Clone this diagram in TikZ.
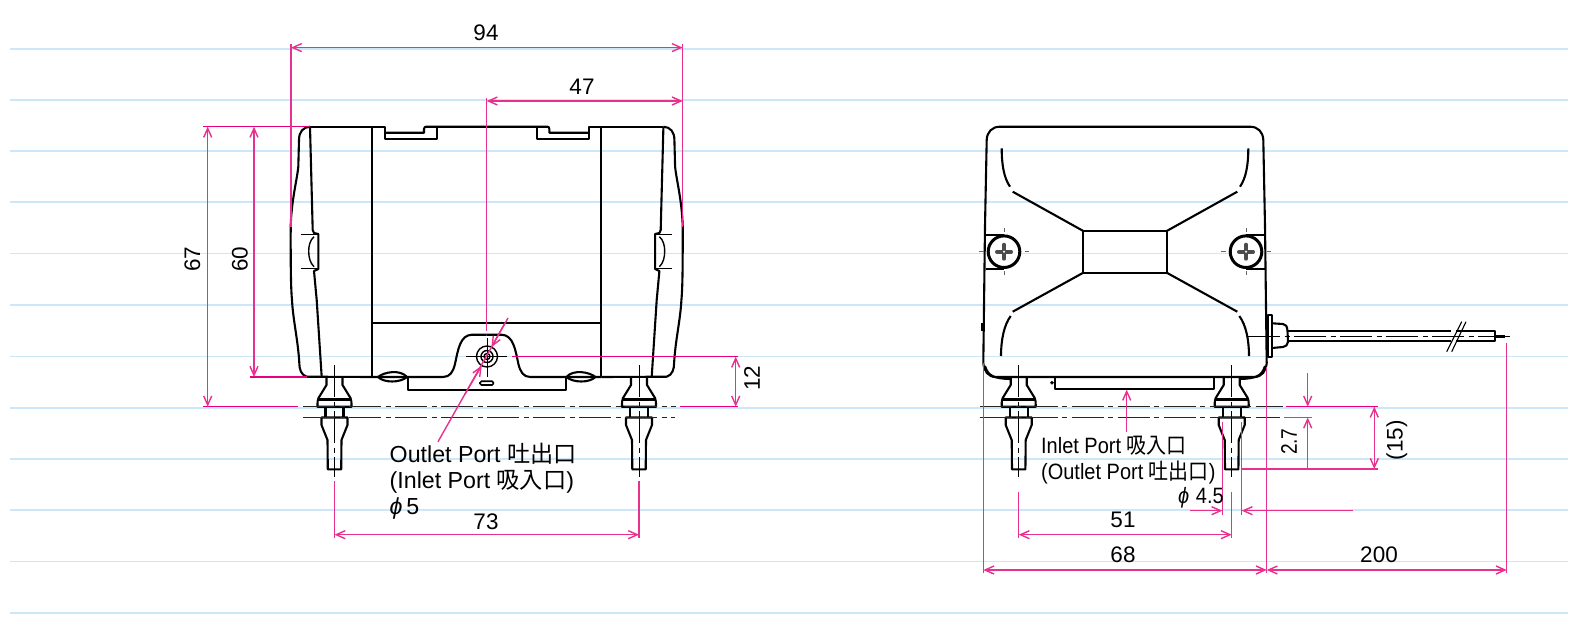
\documentclass[tikz,border=0pt]{standalone}
\usepackage{fontspec}
\setmainfont{Liberation Sans}
\newfontfamily\cjkfont{Noto Sans CJK JP}
\usetikzlibrary{arrows.meta}
\definecolor{dimpink}{HTML}{E8308F}
\definecolor{extpink}{HTML}{E6007E}
\definecolor{ruleblue}{HTML}{CCE7F8}
\newcommand{\cj}[1]{{\cjkfont #1}}
\newcommand{\phisym}{{\itshape ϕ}}
\tikzset{
  ruleline/.style={ruleblue,line width=1.2pt},
  outline/.style={black,line width=2.1pt,line join=round},
  thinout/.style={black,line width=1.4pt},
  centreline/.style={black!85,line width=1.1pt,dash pattern=on 32pt off 4.5pt on 5pt off 4.5pt},
  extline/.style={extpink,line width=1.3pt},
  dimline/.style={dimpink,line width=1.4pt,>={Straight Barb[length=9pt,width=8pt]}},
  dimtext/.style={font=\fontsize{22.5}{25}\selectfont,inner sep=0pt,text=black},
  porttext/.style={font=\fontsize{23.2}{26}\selectfont,inner sep=0pt,text=black,anchor=base west},
  portnarrow/.style={font=\fontsize{22.2}{25}\selectfont,inner sep=0pt,text=black,anchor=base west,xscale=.9},
}
% half of the front view, drawn on the left and mirrored
\newcommand{\halfbody}{%
  \draw[outline] (372,377) -- (306.7,376.7) .. controls (301,375) and (299.3,369) .. (299.3,363)
    .. controls (298,340) and (293,320) .. (292,300) .. controls (290.5,285) and (290.7,250) .. (290.7,226)
    .. controls (291.5,200) and (297,180) .. (298.3,166.7) -- (299,140) .. controls (299,132) and (303,127) .. (310,126.7);
  \draw[outline] (310,126.7) -- (312.7,230) -- (314,233) -- (318.3,234) -- (318.3,269) -- (314,271) -- (316.7,300) -- (321.7,377);
  \draw[thinout] (301,234.7) -- (318,234.7) (301,268.3) -- (318,268.3);
  \draw[thinout] (314,236.7) .. controls (310,240) and (308.7,246) .. (308.7,251) .. controls (308.7,257) and (310,263) .. (314,266.7);
  \draw[outline] (372,126.7) -- (372,377);
  \draw[outline] (372,126.7) -- (384.7,126.7) -- (384.7,139) -- (436.7,139) -- (436.7,127);
  \draw[outline] (384.7,132.7) -- (424,132.7) -- (424,129) .. controls (424,127.5) and (425,126.7) .. (426,126.7) -- (486.7,126.7);
  \draw[outline] (310,126.7) -- (372,126.7);
  \draw[outline] (378,377) .. controls (384,372) and (400,369) .. (407,377) .. controls (400,383) and (384,383) .. (378,377);
  \draw[thinout] (381,377) -- (404,377);
  \draw[outline] (372,377) -- (443,377) .. controls (450,377) and (453,372) .. (455,364)
    .. controls (458,350) and (460,335) .. (472,334.7) -- (486.7,334.7);
  \draw[outline] (407.7,377) -- (407.7,389.7) -- (486.7,389.7);
}
\newcommand{\pumpfoot}[1]{%
  \begin{scope}[shift={(#1,0)}]
    \draw[outline] (-8,377) -- (-8,385) -- (-16,398) .. controls (-17,400) and (-17,402) .. (-17,406.7) -- (17,406.7)
       .. controls (17,402) and (17,400) .. (16,398) -- (8,385) -- (8,377);
    \draw[outline] (-16,399.5) -- (16,399.5);
    \draw[outline] (-9,406.7) -- (-9,417.5) (9,406.7) -- (9,417.5);
    \draw[outline] (-13,417.5) -- (13,417.5) -- (13,425) -- (7,440) -- (6.7,469.3) -- (-6.7,469.3) -- (-7,440) -- (-13,425) -- cycle;
    \draw[black,line width=1pt,dash pattern=on 32pt off 4.5pt on 5pt off 4.5pt] (0,365) -- (0,477);
  \end{scope}%
}
\newcommand{\screwhead}[1]{%
  \begin{scope}[shift={(#1,251.7)}]
    \draw[black,line width=3pt,fill=white] (0,0) circle (15.8);
    \draw[black!70,line width=4pt,line cap=round] (-7,0) -- (7,0) (0,-7) -- (0,7);
    \fill[white] (0,0) circle (1.2);
    \draw[black!60,line width=1pt] (-25,0) -- (-20.5,0) (20.5,0) -- (25,0) (0,-23.5) -- (0,-19.5) (0,19.5) -- (0,23.5);
  \end{scope}%
}
\begin{document}
\begin{tikzpicture}[x=1pt,y=-1pt]
\useasboundingbox (0,0) rectangle (1588,634);
\fill[white] (0,0) rectangle (1588,634);
% ruled background
\foreach \yy in {49,100,151,202,253.7,305,356.5,408,459,510,561.5,613}
  \draw[ruleline] (10,\yy) -- (1568,\yy);

% ---- front view
\halfbody
\begin{scope}[shift={(973.4,0)},xscale=-1]\halfbody\end{scope}
\draw[outline] (372,322.7) -- (601.4,322.7);
\pumpfoot{334.5}
\pumpfoot{639}
\draw[black,line width=1.6pt,rounded corners=1.5pt] (480,381.2) rectangle (493.4,385);
\draw[thinout] (487,356.5) circle (10.5);
\draw[thinout] (487,356.5) circle (6);
\draw[thinout] (487,356.5) circle (3);
\draw[black,line width=1pt] (466,356.5) -- (507,356.5) (487,338) -- (487,377);
\draw[centreline] (303,406.7) -- (676,406.7);
\draw[centreline] (303,417.5) -- (675,417.5);

% front view dimensions
\draw[extline] (203,126.7) -- (310,126.7);
\draw[extline] (250,377) -- (307,377);
\draw[extline] (203,406.7) -- (298,406.7);
\draw[extline] (512,356.7) -- (738,356.7);
\draw[extline] (680,406.7) -- (738,406.7);
\draw[dimline] (291,44) -- (291,226.7);
\draw[dimline] (682.7,44) -- (682.7,226.7);
\draw[dimline] (486.7,98) -- (486.7,331);
\draw[dimline,<->] (291,47.6) -- (682.7,47.6);
\draw[dimline,<->] (486.7,101) -- (682.7,101);
\draw[dimline,<->] (207.7,126.7) -- (207.7,406.7);
\draw[dimline,<->] (254,126.7) -- (254,377);
\draw[dimline,<->] (735.7,356.7) -- (735.7,406.7);
\draw[dimline] (438,441.7) -- (508,318);
\draw[dimline,->] (465,394) -- (481.7,365.7);
\draw[dimline,->] (505,323) -- (491.5,347);
\draw[dimline] (334.5,481) -- (334.5,538);
\draw[dimline] (639,481) -- (639,538);
\draw[dimline,<->] (334.5,534.7) -- (639,534.7);
\node[dimtext] (d94) at (486,32.5) {94};
\node[dimtext] (d47) at (582,86.5) {47};
\node[dimtext,rotate=90] (d67) at (192.4,259) {67};
\node[dimtext,rotate=90] (d60) at (240,259) {60};
\node[dimtext,rotate=90] (d12) at (752,378) {12};
\node[dimtext] (d73) at (486,521.5) {73};
\node[porttext] (outA) at (389.5,462.7) {Outlet Port \cj{吐出口}};
\node[porttext] (inA) at (389.5,488.5) {(Inlet Port \cj{吸入口})};
\node[porttext] (phiA) at (389.5,514) {\phisym\,5};

% ---- side view
\draw[outline] (983.3,363) -- (985,226) -- (986.7,140) .. controls (987,132) and (992,126.7) .. (1000,126.7)
  -- (1250,126.7) .. controls (1258,126.7) and (1263,132) .. (1263.3,140) -- (1265,226) -- (1266.7,363)
  .. controls (1266,371) and (1262,377) .. (1254,377) -- (996,377) .. controls (988,377) and (984,371) .. (983.3,363);
\draw[outline] (985,366) .. controls (988,376) and (994,378.5) .. (1010,379);
\draw[outline] (1265,366) .. controls (1262,376) and (1256,378.5) .. (1240,379);
\draw[outline] (982.5,323) -- (982.5,331);
\draw[outline] (1083.3,231) rectangle (1166.7,272.7);
\draw[outline] (1083.3,231) -- (1012.7,191.7) (1166.7,231) -- (1237.3,191.7)
  (1083.3,272.7) -- (1012.7,311.7) (1166.7,272.7) -- (1237.3,311.7);
\draw[outline] (1010,186.7) .. controls (1004,178) and (1001.7,165) .. (1001.7,148.3);
\draw[outline] (1240,186.7) .. controls (1246,178) and (1248.3,165) .. (1248.3,148.3);
\draw[outline] (1010.7,316) .. controls (1004,325) and (1001,340) .. (1001,356);
\draw[outline] (1239.3,316) .. controls (1246,325) and (1249,340) .. (1249,356);
\draw[outline] (986,235) -- (1004,235) (986,269) -- (1004,269) (1246,235) -- (1264.5,235) (1246,269) -- (1265,269);
\screwhead{1004}
\screwhead{1246}
\pumpfoot{1018.7}
\pumpfoot{1231.7}
\draw[outline] (1055,377) -- (1055,389.3) -- (1214,389.3) -- (1214,377);
\draw[black,fill=black] (1052,382.7) circle (1.6);
% cord
\draw[outline] (1268,315) rectangle (1271.7,357);
\draw[outline] (1272,323.3) -- (1283,324) .. controls (1286,324.5) and (1287,326) .. (1287.5,331) -- (1288,342)
   .. controls (1287.5,345) and (1286,346.5) .. (1283,347) -- (1272,348);
\draw[outline] (1288,330.7) -- (1495,330.7) -- (1495,341.3) -- (1288,341.3);
\fill[white] (1451,328) -- (1456,328) -- (1456,344) -- (1451,344) -- cycle;
\draw[black,line width=3pt] (1495,336) -- (1505,336);
\draw[black,line width=1.1pt] (1446.7,351.7) -- (1461.7,321.7) (1451.7,351.7) -- (1466,321.7);
\draw[black,line width=1pt,dash pattern=on 32pt off 4.5pt on 5pt off 4.5pt] (1248,336) -- (1512,336);
\draw[centreline] (979.7,406.7) -- (1283,406.7);
\draw[centreline] (979.7,417.5) -- (1280,417.5);

% side view dimensions
\draw[extline] (1285.7,406.7) -- (1378,406.7);
\draw[dimline] (1284,417.5) -- (1311.7,417.5);
\draw[dimline] (1241.7,469) -- (1378,469);
\draw[dimline,->] (1126.7,431.7) -- (1126.7,389.7);
\draw[dimline] (1222.3,421.7) -- (1222.3,515);
\draw[dimline] (1241.7,421.7) -- (1241.7,515);
\draw[dimline,->] (1190,510.7) -- (1222.3,510.7);
\draw[dimline,->] (1353,510.7) -- (1241.7,510.7);
\draw[dimline,->] (1307.7,373) -- (1307.7,406.7);
\draw[dimline,->] (1307.7,470) -- (1307.7,417.5);
\draw[dimline,<->] (1374.3,406.7) -- (1374.3,469);
\draw[dimline] (1018.7,491.7) -- (1018.7,538);
\draw[dimline] (1231.7,491.7) -- (1231.7,538);
\draw[dimline,<->] (1018.7,534.7) -- (1231.7,534.7);
\draw[dimline] (983.3,363) -- (983.3,573);
\draw[dimline] (1266.7,367) -- (1266.7,573);
\draw[dimline] (1506.7,342.7) -- (1506.7,573);
\draw[dimline,<->] (983.3,570) -- (1266.7,570);
\draw[dimline,<->] (1266.7,570) -- (1506.7,570);
\node[dimtext] (d51) at (1123,519.5) {51};
\node[dimtext] (d68) at (1123,555) {68};
\node[dimtext] (d200) at (1379,555) {200};
\node[dimtext,rotate=90,xscale=.85] (d27) at (1289,441.7) {2.7};
\node[dimtext,rotate=90] (d15) at (1396.7,440) {(15)};
\node[portnarrow] (inB) at (1041,453.3) {Inlet Port \cj{吸入口}};
\node[portnarrow] (outB) at (1041,479) {(Outlet Port \cj{吐出口})};
\node[portnarrow] (phiB) at (1178,503.5) {\phisym\,\,4.5};
\end{tikzpicture}
\end{document}
